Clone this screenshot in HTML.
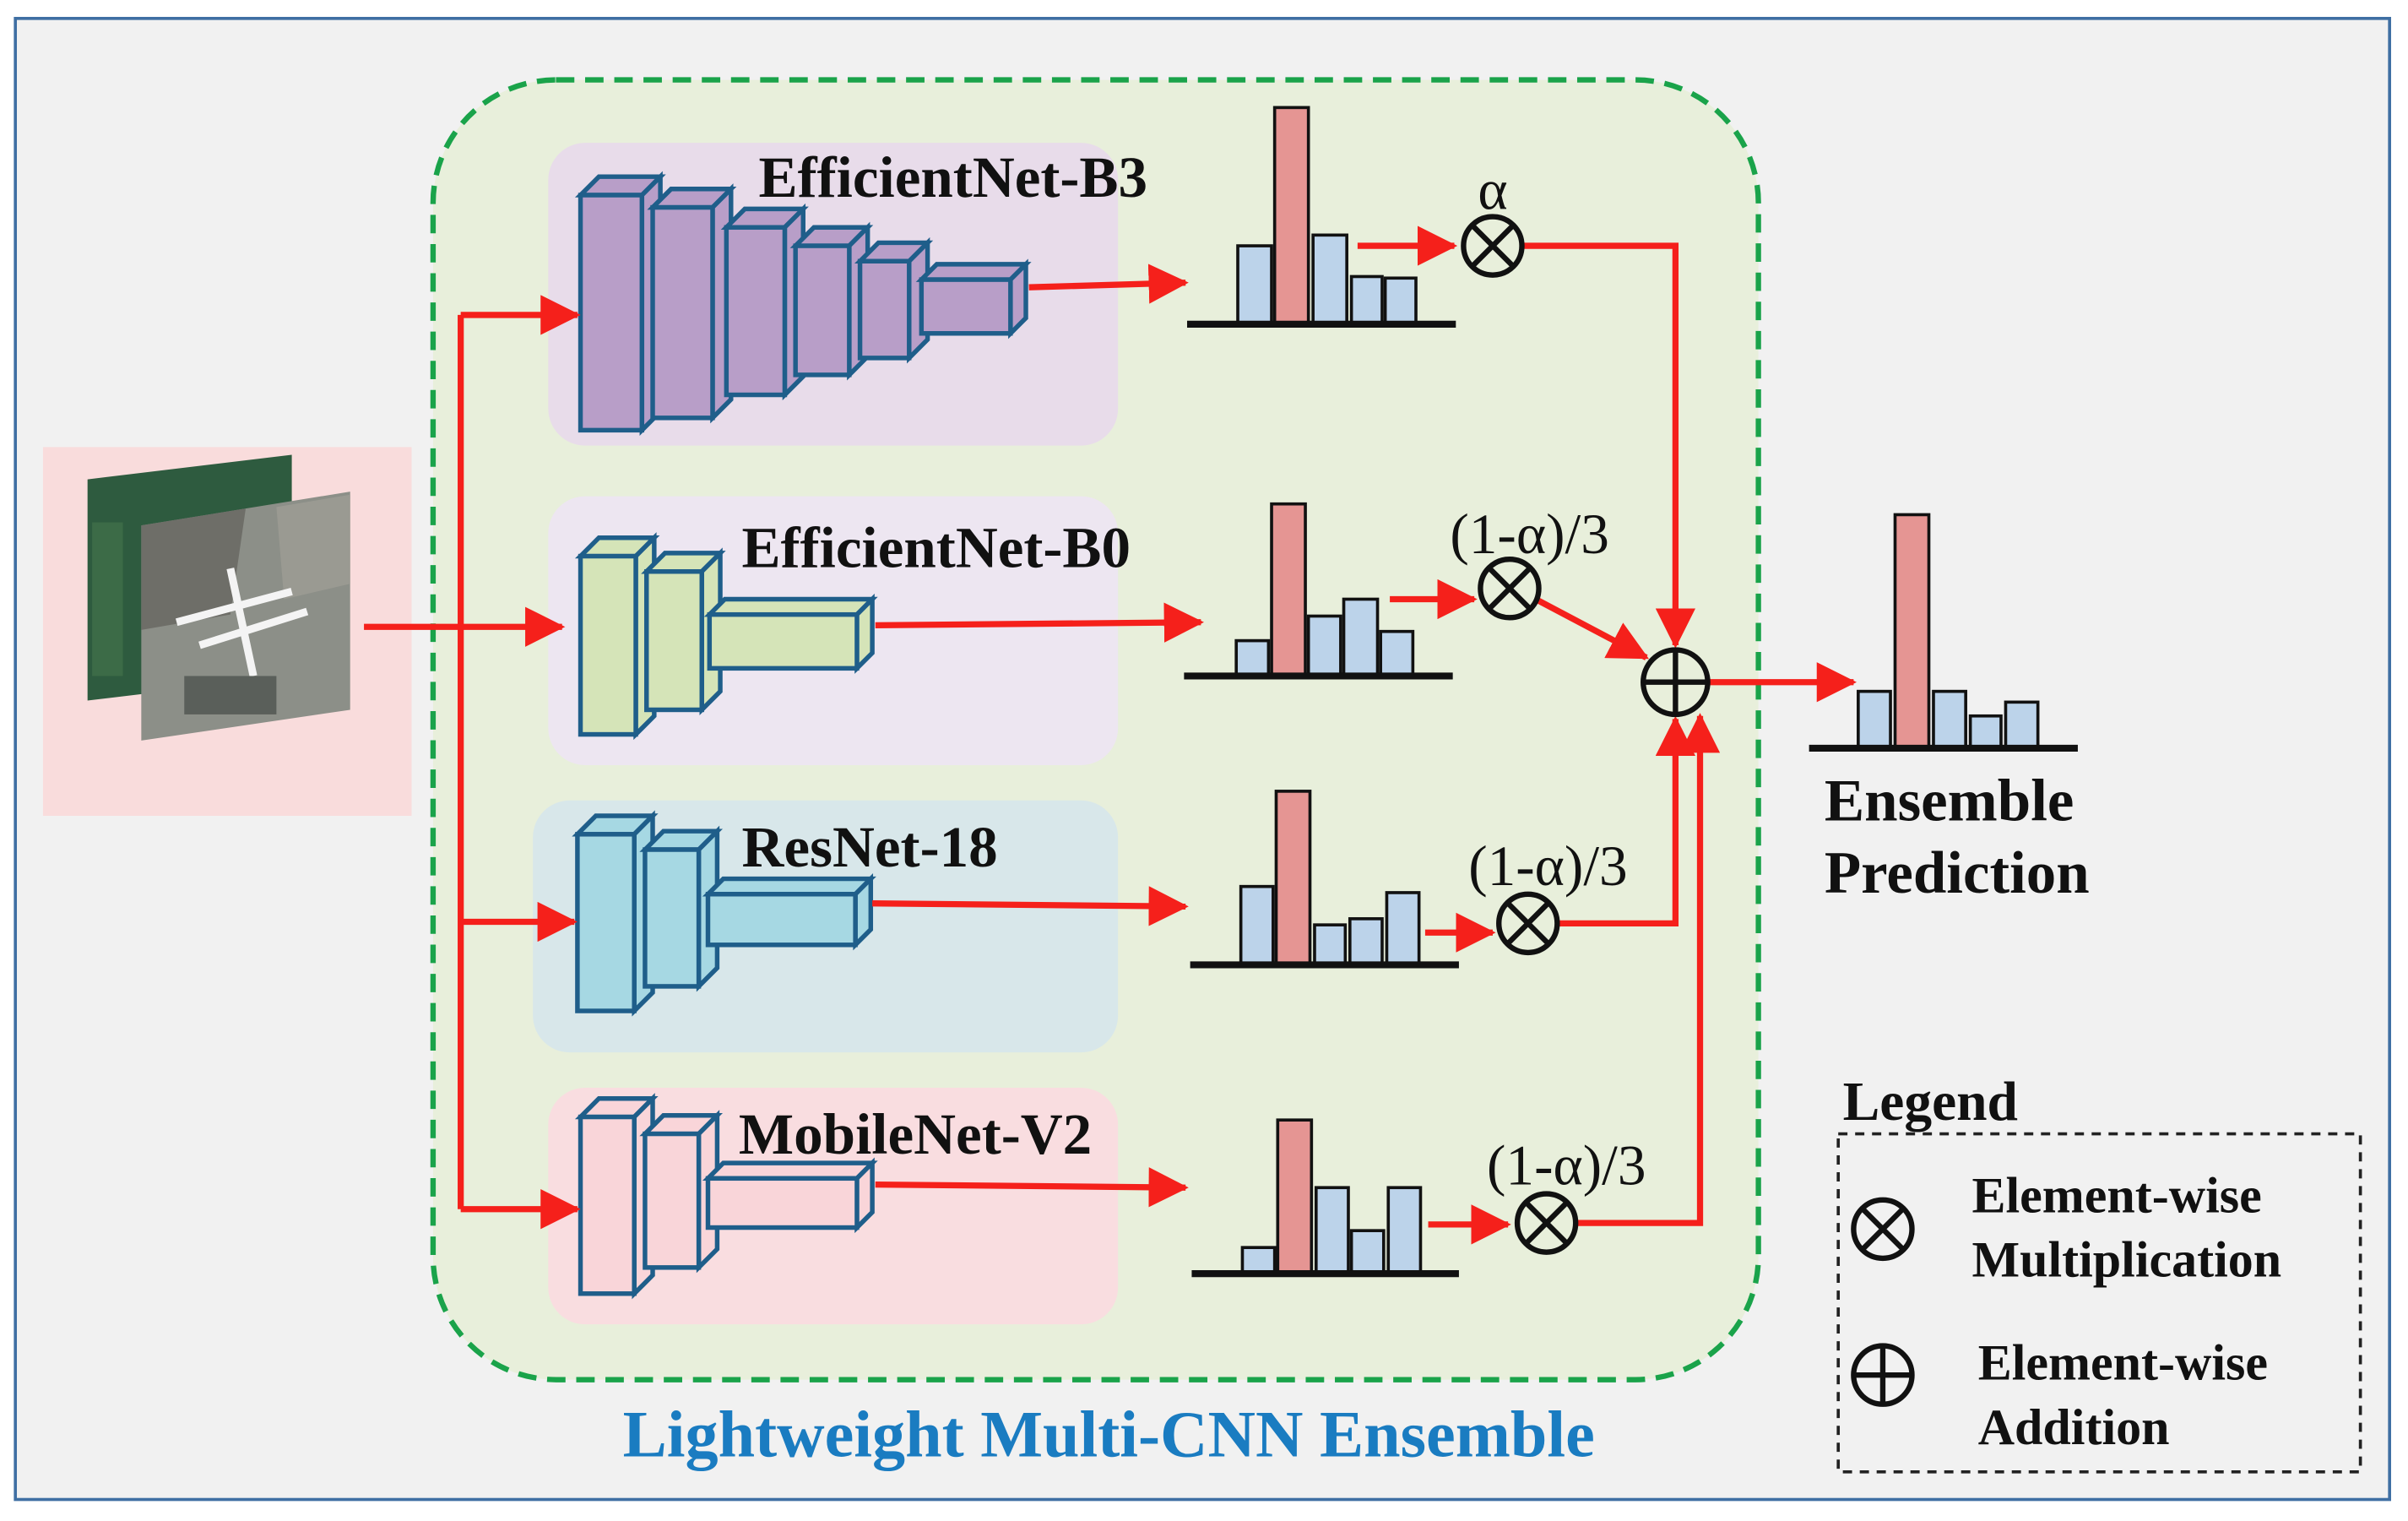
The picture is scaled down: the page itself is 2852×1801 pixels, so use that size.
<!DOCTYPE html>
<html><head><meta charset="utf-8"><style>
html,body{margin:0;padding:0;background:#fff;}
svg{display:block;}
text{font-family:"Liberation Serif",serif;}
</style></head><body>
<svg width="2852" height="1801" viewBox="0 0 1568 990" preserveAspectRatio="none" xmlns="http://www.w3.org/2000/svg">
<defs>
<marker id="ahb" markerWidth="26" markerHeight="26" refX="24" refY="13" orient="auto" markerUnits="userSpaceOnUse" viewBox="0 0 26 26">
<path d="M0,0 L26,13 L0,26 z" fill="#f5201b"/></marker>
</defs>
<rect x="0" y="0" width="1568" height="990" fill="#fff"/>
<rect x="10" y="12" width="1546" height="964" fill="#f1f1f1" stroke="#3f6fa3" stroke-width="2"/>
<rect x="28" y="291" width="240" height="240" fill="#f9dcdc"/>
<!-- image -->
<polygon points="57,312 190,296 190,440 57,456" fill="#2e5b3f"/>
<polygon points="92,342 228,320 228,462 92,482" fill="#8c8f88"/>
<polygon points="92,342 160,331 150,400 92,410" fill="#6e6e68"/>
<polygon points="180,330 228,322 228,380 185,390" fill="#9a9a92"/>
<path d="M115,405 L190,385 M150,370 L165,440 M130,420 L200,398" stroke="#f4f4f4" stroke-width="5"/>
<rect x="60" y="340" width="20" height="100" fill="#3c6b47"/>
<rect x="120" y="440" width="60" height="25" fill="#5a5f5a"/>
<!-- green dashed -->
<rect x="282" y="52" width="863" height="846" rx="80" fill="#e8efdb" stroke="#1aa34a" stroke-width="3.5" stroke-dasharray="12,7"/>
<!-- panels -->
<rect x="357" y="93" width="371" height="197" rx="24" fill="#e8dcea"/>
<rect x="357" y="323" width="371" height="175" rx="24" fill="#ede6f1"/>
<rect x="347" y="521" width="381" height="164" rx="24" fill="#d8e7ea"/>
<rect x="357" y="708" width="371" height="154" rx="24" fill="#f9dde0"/>
<g stroke="#1f5e8a" stroke-width="3" stroke-linejoin="miter">
<g fill="#b89ec8">
<polygon points="378,127 390,115 430,115 418,127"/><polygon points="418,127 430,115 430,268 418,280"/><rect x="378" y="127" width="40" height="153"/>
<polygon points="425,135 437,123 476,123 464,135"/><polygon points="464,135 476,123 476,260 464,272"/><rect x="425" y="135" width="39" height="137"/>
<polygon points="473,148 485,136 523,136 511,148"/><polygon points="511,148 523,136 523,245 511,257"/><rect x="473" y="148" width="38" height="109"/>
<polygon points="518,160 530,148 565,148 553,160"/><polygon points="553,160 565,148 565,232 553,244"/><rect x="518" y="160" width="35" height="84"/>
<polygon points="560,170 572,158 604,158 592,170"/><polygon points="592,170 604,158 604,221 592,233"/><rect x="560" y="170" width="32" height="63"/>
<polygon points="600,182 610,172 668,172 658,182"/><polygon points="658,182 668,172 668,207 658,217"/><rect x="600" y="182" width="58" height="35"/>
</g>
<g fill="#d5e4b8">
<polygon points="378,362 390,350 426,350 414,362"/><polygon points="414,362 426,350 426,466 414,478"/><rect x="378" y="362" width="36" height="116"/>
<polygon points="421,372 433,360 469,360 457,372"/><polygon points="457,372 469,360 469,450 457,462"/><rect x="421" y="372" width="36" height="90"/>
<polygon points="462,400 472,390 568,390 558,400"/><polygon points="558,400 568,390 568,425 558,435"/><rect x="462" y="400" width="96" height="35"/>
</g>
<g fill="#a6d8e3">
<polygon points="376,543 388,531 425,531 413,543"/><polygon points="413,543 425,531 425,646 413,658"/><rect x="376" y="543" width="37" height="115"/>
<polygon points="420,553 432,541 467,541 455,553"/><polygon points="455,553 467,541 467,630 455,642"/><rect x="420" y="553" width="35" height="89"/>
<polygon points="461,582 471,572 567,572 557,582"/><polygon points="557,582 567,572 567,605 557,615"/><rect x="461" y="582" width="96" height="33"/>
</g>
<g fill="#f9d5d9">
<polygon points="378,727 390,715 425,715 413,727"/><polygon points="413,727 425,715 425,830 413,842"/><rect x="378" y="727" width="35" height="115"/>
<polygon points="420,738 432,726 467,726 455,738"/><polygon points="455,738 467,726 467,813 455,825"/><rect x="420" y="738" width="35" height="87"/>
<polygon points="461,767 471,757 568,757 558,767"/><polygon points="558,767 568,757 568,789 558,799"/><rect x="461" y="767" width="97" height="32"/>
</g>
</g>
<g font-weight="bold" font-size="38" fill="#111">
<text x="494" y="128">EfficientNet-B3</text>
<text x="483" y="369">EfficientNet-B0</text>
<text x="483" y="564">ResNet-18</text>
<text x="481" y="751">MobileNet-V2</text>
</g>
<g stroke="#f5201b" stroke-width="4" fill="none">
<path d="M300,205 L300,787"/>
<path d="M300,205 L376,205" marker-end="url(#ahb)"/>
<path d="M237,408 L366,408" marker-end="url(#ahb)"/>
<path d="M300,600 L374,600" marker-end="url(#ahb)"/>
<path d="M300,787 L376,787" marker-end="url(#ahb)"/>
<path d="M670,187 L772,184" marker-end="url(#ahb)"/>
<path d="M570,407 L782,405" marker-end="url(#ahb)"/>
<path d="M568,588 L772,590" marker-end="url(#ahb)"/>
<path d="M570,771 L772,773" marker-end="url(#ahb)"/>
<path d="M884,160 L947,160" marker-end="url(#ahb)"/>
<path d="M905,390 L960,390" marker-end="url(#ahb)"/>
<path d="M928,607 L972,607" marker-end="url(#ahb)"/>
<path d="M930,797 L982,797" marker-end="url(#ahb)"/>
<path d="M992,160 L1091,160 L1091,420" marker-end="url(#ahb)"/>
<path d="M1000,390 L1072,428" marker-end="url(#ahb)"/>
<path d="M1015,601 L1091,601 L1091,468" marker-end="url(#ahb)"/>
<path d="M1027,796 L1107,796 L1107,466" marker-end="url(#ahb)"/>
<path d="M1113,444 L1207,444" marker-end="url(#ahb)"/>
</g>
<g stroke="#111" stroke-width="2">
<g fill="#bcd3ea"><rect x="806" y="160" width="22" height="51"/><rect x="855" y="153" width="22" height="58"/><rect x="880" y="180" width="20" height="31"/><rect x="902" y="181" width="20" height="30"/></g>
<rect x="830" y="70" width="22" height="141" fill="#e59593"/>
<g fill="#bcd3ea"><rect x="805" y="417" width="21" height="23"/><rect x="852" y="401" width="21" height="39"/><rect x="875" y="390" width="22" height="50"/><rect x="899" y="411" width="21" height="29"/></g>
<rect x="828" y="328" width="22" height="112" fill="#e59593"/>
<g fill="#bcd3ea"><rect x="808" y="577" width="21" height="51"/><rect x="856" y="602" width="20" height="26"/><rect x="879" y="598" width="21" height="30"/><rect x="903" y="581" width="21" height="47"/></g>
<rect x="831" y="515" width="22" height="113" fill="#e59593"/>
<g fill="#bcd3ea"><rect x="809" y="812" width="21" height="17"/><rect x="857" y="773" width="21" height="56"/><rect x="880" y="801" width="21" height="28"/><rect x="904" y="773" width="21" height="56"/></g>
<rect x="832" y="729" width="22" height="100" fill="#e59593"/>
<g fill="#bcd3ea"><rect x="1210" y="450" width="21" height="37"/><rect x="1259" y="450" width="21" height="37"/><rect x="1283" y="466" width="20" height="21"/><rect x="1306" y="457" width="21" height="30"/></g>
<rect x="1234" y="335" width="22" height="152" fill="#e59593"/>
</g>
<g stroke="#111" stroke-width="4.5">
<line x1="773" y1="211" x2="948" y2="211"/>
<line x1="771" y1="440" x2="946" y2="440"/>
<line x1="775" y1="628" x2="950" y2="628"/>
<line x1="776" y1="829" x2="950" y2="829"/>
<line x1="1178" y1="487" x2="1353" y2="487"/>
</g>
<g stroke="#111" stroke-width="3.5" fill="none">
<g><circle cx="972" cy="160" r="19"/><path d="M958.5,146.5 L985.5,173.5 M985.5,146.5 L958.5,173.5"/></g>
<g><circle cx="983" cy="383" r="19"/><path d="M969.5,369.5 L996.5,396.5 M996.5,369.5 L969.5,396.5"/></g>
<g><circle cx="995" cy="601" r="19"/><path d="M981.5,587.5 L1008.5,614.5 M1008.5,587.5 L981.5,614.5"/></g>
<g><circle cx="1007" cy="796" r="19"/><path d="M993.5,782.5 L1020.5,809.5 M1020.5,782.5 L993.5,809.5"/></g>
<g><circle cx="1091" cy="444" r="21"/><path d="M1070,444 L1112,444 M1091,423 L1091,465"/></g>
<g><circle cx="1226" cy="800" r="19"/><path d="M1212.5,786.5 L1239.5,813.5 M1239.5,786.5 L1212.5,813.5"/></g>
<g><circle cx="1226" cy="895" r="19"/><path d="M1207,895 L1245,895 M1226,876 L1226,914"/></g>
</g>
<g font-size="37" fill="#111">
<text x="972" y="136" text-anchor="middle">α</text>
<text x="996" y="360" text-anchor="middle">(1-α)/3</text>
<text x="1008" y="576" text-anchor="middle">(1-α)/3</text>
<text x="1020" y="771" text-anchor="middle">(1-α)/3</text>
</g>
<g font-weight="bold" fill="#111">
<text x="1188" y="534" font-size="39">Ensemble</text>
<text x="1188" y="581" font-size="39">Prediction</text>
<text x="1200" y="729" font-size="36">Legend</text>
<text x="1284" y="789" font-size="33">Element-wise</text>
<text x="1284" y="831" font-size="33">Multiplication</text>
<text x="1288" y="898" font-size="33">Element-wise</text>
<text x="1288" y="940" font-size="33">Addition</text>
</g>
<rect x="1197" y="738" width="340" height="220" fill="none" stroke="#222" stroke-width="2" stroke-dasharray="6,5"/>
<text x="722" y="948" text-anchor="middle" font-size="43" font-weight="bold" fill="#1a7cc1">Lightweight Multi-CNN Ensemble</text>
</svg>
</body></html>
